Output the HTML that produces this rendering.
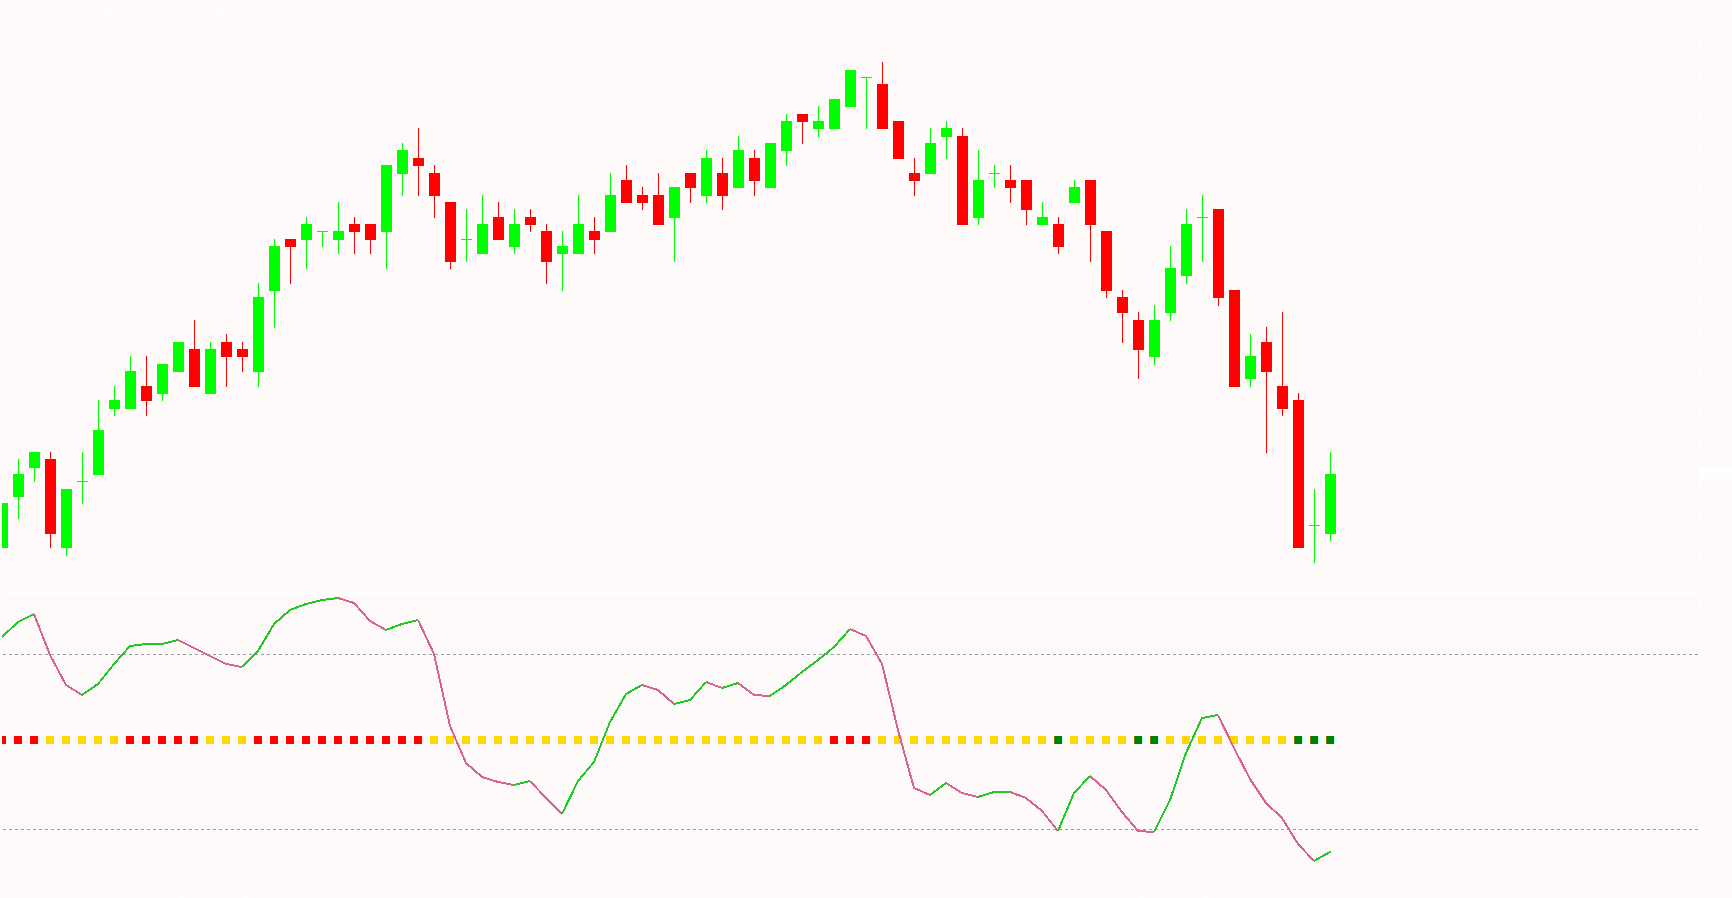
<!DOCTYPE html><html><head><meta charset="utf-8"><title>AUDCAD,M1</title>
<style>html,body{margin:0;padding:0;background:#fffafa;overflow:hidden}body{width:1732px;height:898px;position:relative;font-family:"Liberation Sans",sans-serif}svg{position:absolute;left:0;top:0;display:block}text{font-family:"Liberation Sans",sans-serif;fill:#ffffff}</style></head><body>
<svg width="1732" height="898" viewBox="0 0 1732 898">
<rect x="0" y="0" width="1732" height="898" fill="#fffafa"/>
<g shape-rendering="crispEdges" fill="none" stroke="#ffffff" stroke-width="1">
<rect x="1.5" y="2.5" width="1698" height="590"/>
<rect x="1.5" y="594.5" width="1698" height="293"/>
<line x1="1700" y1="40.5" x2="1702" y2="40.5"/>
<line x1="1700" y1="77.5" x2="1702" y2="77.5"/>
<line x1="1700" y1="114.5" x2="1702" y2="114.5"/>
<line x1="1700" y1="150.5" x2="1702" y2="150.5"/>
<line x1="1700" y1="187.5" x2="1702" y2="187.5"/>
<line x1="1700" y1="224.5" x2="1702" y2="224.5"/>
<line x1="1700" y1="261.5" x2="1702" y2="261.5"/>
<line x1="1700" y1="297.5" x2="1702" y2="297.5"/>
<line x1="1700" y1="334.5" x2="1702" y2="334.5"/>
<line x1="1700" y1="371.5" x2="1702" y2="371.5"/>
<line x1="1700" y1="408.5" x2="1702" y2="408.5"/>
<line x1="1700" y1="444.5" x2="1702" y2="444.5"/>
<line x1="1700" y1="481.5" x2="1702" y2="481.5"/>
<line x1="1700" y1="518.5" x2="1702" y2="518.5"/>
<line x1="1700" y1="555.5" x2="1702" y2="555.5"/>
<line x1="1700" y1="601.5" x2="1702" y2="601.5"/>
<line x1="1700" y1="654.5" x2="1702" y2="654.5"/>
<line x1="1700" y1="829.5" x2="1702" y2="829.5"/>
<line x1="1700" y1="881.5" x2="1702" y2="881.5"/>
<line x1="2.5" y1="887" x2="2.5" y2="891"/>
<line x1="66.5" y1="887" x2="66.5" y2="891"/>
<line x1="130.5" y1="887" x2="130.5" y2="891"/>
<line x1="194.5" y1="887" x2="194.5" y2="891"/>
<line x1="258.5" y1="887" x2="258.5" y2="891"/>
<line x1="322.5" y1="887" x2="322.5" y2="891"/>
<line x1="386.5" y1="887" x2="386.5" y2="891"/>
<line x1="450.5" y1="887" x2="450.5" y2="891"/>
<line x1="514.5" y1="887" x2="514.5" y2="891"/>
<line x1="578.5" y1="887" x2="578.5" y2="891"/>
<line x1="642.5" y1="887" x2="642.5" y2="891"/>
<line x1="706.5" y1="887" x2="706.5" y2="891"/>
<line x1="770.5" y1="887" x2="770.5" y2="891"/>
<line x1="834.5" y1="887" x2="834.5" y2="891"/>
<line x1="898.5" y1="887" x2="898.5" y2="891"/>
<line x1="962.5" y1="887" x2="962.5" y2="891"/>
<line x1="1026.5" y1="887" x2="1026.5" y2="891"/>
<line x1="1090.5" y1="887" x2="1090.5" y2="891"/>
<line x1="1154.5" y1="887" x2="1154.5" y2="891"/>
<line x1="1218.5" y1="887" x2="1218.5" y2="891"/>
<line x1="1282.5" y1="887" x2="1282.5" y2="891"/>
<line x1="1346.5" y1="887" x2="1346.5" y2="891"/>
<line x1="1410.5" y1="887" x2="1410.5" y2="891"/>
<line x1="1474.5" y1="887" x2="1474.5" y2="891"/>
<line x1="1538.5" y1="887" x2="1538.5" y2="891"/>
<line x1="1602.5" y1="887" x2="1602.5" y2="891"/>
<line x1="1666.5" y1="887" x2="1666.5" y2="891"/>
</g>
<defs><clipPath id="c1"><rect x="2" y="3" width="1697" height="589"/></clipPath><clipPath id="c2"><rect x="2" y="595" width="1697" height="292"/></clipPath></defs>
<g shape-rendering="crispEdges" clip-path="url(#c1)">
<rect x="2" y="503" width="1" height="45" fill="#00ff00"/>
<rect x="-3" y="503" width="11" height="45" fill="#00ff00"/>
<rect x="18" y="459" width="1" height="60" fill="#00ff00"/>
<rect x="13" y="474" width="11" height="23" fill="#00ff00"/>
<rect x="34" y="452" width="1" height="30" fill="#00ff00"/>
<rect x="29" y="452" width="11" height="16" fill="#00ff00"/>
<rect x="50" y="452" width="1" height="96" fill="#ff0000"/>
<rect x="45" y="459" width="11" height="75" fill="#ff0000"/>
<rect x="66" y="489" width="1" height="67" fill="#00ff00"/>
<rect x="61" y="489" width="11" height="59" fill="#00ff00"/>
<rect x="82" y="452" width="1" height="52" fill="#00ff00"/>
<rect x="77" y="481" width="11" height="1" fill="#00ff00"/>
<rect x="98" y="400" width="1" height="75" fill="#00ff00"/>
<rect x="93" y="430" width="11" height="45" fill="#00ff00"/>
<rect x="114" y="386" width="1" height="30" fill="#00ff00"/>
<rect x="109" y="400" width="11" height="9" fill="#00ff00"/>
<rect x="130" y="356" width="1" height="53" fill="#00ff00"/>
<rect x="125" y="371" width="11" height="38" fill="#00ff00"/>
<rect x="146" y="356" width="1" height="60" fill="#ff0000"/>
<rect x="141" y="386" width="11" height="15" fill="#ff0000"/>
<rect x="162" y="364" width="1" height="37" fill="#00ff00"/>
<rect x="157" y="364" width="11" height="30" fill="#00ff00"/>
<rect x="178" y="342" width="1" height="30" fill="#00ff00"/>
<rect x="173" y="342" width="11" height="30" fill="#00ff00"/>
<rect x="194" y="320" width="1" height="67" fill="#ff0000"/>
<rect x="189" y="349" width="11" height="38" fill="#ff0000"/>
<rect x="210" y="342" width="1" height="52" fill="#00ff00"/>
<rect x="205" y="349" width="11" height="45" fill="#00ff00"/>
<rect x="226" y="334" width="1" height="53" fill="#ff0000"/>
<rect x="221" y="342" width="11" height="15" fill="#ff0000"/>
<rect x="242" y="342" width="1" height="30" fill="#ff0000"/>
<rect x="237" y="349" width="11" height="8" fill="#ff0000"/>
<rect x="258" y="283" width="1" height="104" fill="#00ff00"/>
<rect x="253" y="297" width="11" height="75" fill="#00ff00"/>
<rect x="274" y="239" width="1" height="89" fill="#00ff00"/>
<rect x="269" y="246" width="11" height="45" fill="#00ff00"/>
<rect x="290" y="239" width="1" height="45" fill="#ff0000"/>
<rect x="285" y="239" width="11" height="8" fill="#ff0000"/>
<rect x="306" y="217" width="1" height="52" fill="#00ff00"/>
<rect x="301" y="224" width="11" height="16" fill="#00ff00"/>
<rect x="322" y="231" width="1" height="16" fill="#00ff00"/>
<rect x="317" y="231" width="11" height="1" fill="#00ff00"/>
<rect x="338" y="202" width="1" height="52" fill="#00ff00"/>
<rect x="333" y="231" width="11" height="9" fill="#00ff00"/>
<rect x="354" y="217" width="1" height="37" fill="#ff0000"/>
<rect x="349" y="224" width="11" height="8" fill="#ff0000"/>
<rect x="370" y="224" width="1" height="30" fill="#ff0000"/>
<rect x="365" y="224" width="11" height="16" fill="#ff0000"/>
<rect x="386" y="165" width="1" height="104" fill="#00ff00"/>
<rect x="381" y="165" width="11" height="67" fill="#00ff00"/>
<rect x="402" y="143" width="1" height="53" fill="#00ff00"/>
<rect x="397" y="150" width="11" height="24" fill="#00ff00"/>
<rect x="418" y="128" width="1" height="68" fill="#ff0000"/>
<rect x="413" y="158" width="11" height="8" fill="#ff0000"/>
<rect x="434" y="165" width="1" height="53" fill="#ff0000"/>
<rect x="429" y="173" width="11" height="23" fill="#ff0000"/>
<rect x="450" y="202" width="1" height="67" fill="#ff0000"/>
<rect x="445" y="202" width="11" height="60" fill="#ff0000"/>
<rect x="466" y="209" width="1" height="53" fill="#00ff00"/>
<rect x="461" y="239" width="11" height="1" fill="#00ff00"/>
<rect x="482" y="195" width="1" height="59" fill="#00ff00"/>
<rect x="477" y="224" width="11" height="30" fill="#00ff00"/>
<rect x="498" y="202" width="1" height="38" fill="#ff0000"/>
<rect x="493" y="217" width="11" height="23" fill="#ff0000"/>
<rect x="514" y="209" width="1" height="45" fill="#00ff00"/>
<rect x="509" y="224" width="11" height="23" fill="#00ff00"/>
<rect x="530" y="209" width="1" height="23" fill="#ff0000"/>
<rect x="525" y="217" width="11" height="8" fill="#ff0000"/>
<rect x="546" y="224" width="1" height="60" fill="#ff0000"/>
<rect x="541" y="231" width="11" height="31" fill="#ff0000"/>
<rect x="562" y="231" width="1" height="60" fill="#00ff00"/>
<rect x="557" y="246" width="11" height="8" fill="#00ff00"/>
<rect x="578" y="195" width="1" height="59" fill="#00ff00"/>
<rect x="573" y="224" width="11" height="30" fill="#00ff00"/>
<rect x="594" y="217" width="1" height="37" fill="#ff0000"/>
<rect x="589" y="231" width="11" height="9" fill="#ff0000"/>
<rect x="610" y="173" width="1" height="59" fill="#00ff00"/>
<rect x="605" y="195" width="11" height="37" fill="#00ff00"/>
<rect x="626" y="165" width="1" height="38" fill="#ff0000"/>
<rect x="621" y="180" width="11" height="23" fill="#ff0000"/>
<rect x="642" y="187" width="1" height="23" fill="#ff0000"/>
<rect x="637" y="195" width="11" height="8" fill="#ff0000"/>
<rect x="658" y="173" width="1" height="52" fill="#ff0000"/>
<rect x="653" y="195" width="11" height="30" fill="#ff0000"/>
<rect x="674" y="187" width="1" height="75" fill="#00ff00"/>
<rect x="669" y="187" width="11" height="31" fill="#00ff00"/>
<rect x="690" y="173" width="1" height="30" fill="#ff0000"/>
<rect x="685" y="173" width="11" height="15" fill="#ff0000"/>
<rect x="706" y="150" width="1" height="53" fill="#00ff00"/>
<rect x="701" y="158" width="11" height="38" fill="#00ff00"/>
<rect x="722" y="158" width="1" height="52" fill="#ff0000"/>
<rect x="717" y="173" width="11" height="23" fill="#ff0000"/>
<rect x="738" y="136" width="1" height="52" fill="#00ff00"/>
<rect x="733" y="150" width="11" height="38" fill="#00ff00"/>
<rect x="754" y="150" width="1" height="46" fill="#ff0000"/>
<rect x="749" y="158" width="11" height="23" fill="#ff0000"/>
<rect x="770" y="143" width="1" height="45" fill="#00ff00"/>
<rect x="765" y="143" width="11" height="45" fill="#00ff00"/>
<rect x="786" y="114" width="1" height="52" fill="#00ff00"/>
<rect x="781" y="121" width="11" height="30" fill="#00ff00"/>
<rect x="802" y="114" width="1" height="30" fill="#ff0000"/>
<rect x="797" y="114" width="11" height="8" fill="#ff0000"/>
<rect x="818" y="106" width="1" height="31" fill="#00ff00"/>
<rect x="813" y="121" width="11" height="8" fill="#00ff00"/>
<rect x="834" y="99" width="1" height="30" fill="#00ff00"/>
<rect x="829" y="99" width="11" height="30" fill="#00ff00"/>
<rect x="850" y="70" width="1" height="37" fill="#00ff00"/>
<rect x="845" y="70" width="11" height="37" fill="#00ff00"/>
<rect x="866" y="77" width="1" height="52" fill="#00ff00"/>
<rect x="861" y="77" width="11" height="1" fill="#00ff00"/>
<rect x="882" y="62" width="1" height="67" fill="#ff0000"/>
<rect x="877" y="84" width="11" height="45" fill="#ff0000"/>
<rect x="898" y="121" width="1" height="38" fill="#ff0000"/>
<rect x="893" y="121" width="11" height="38" fill="#ff0000"/>
<rect x="914" y="158" width="1" height="38" fill="#ff0000"/>
<rect x="909" y="173" width="11" height="8" fill="#ff0000"/>
<rect x="930" y="128" width="1" height="46" fill="#00ff00"/>
<rect x="925" y="143" width="11" height="31" fill="#00ff00"/>
<rect x="946" y="121" width="1" height="38" fill="#00ff00"/>
<rect x="941" y="128" width="11" height="9" fill="#00ff00"/>
<rect x="962" y="128" width="1" height="97" fill="#ff0000"/>
<rect x="957" y="136" width="11" height="89" fill="#ff0000"/>
<rect x="978" y="150" width="1" height="75" fill="#00ff00"/>
<rect x="973" y="180" width="11" height="38" fill="#00ff00"/>
<rect x="994" y="165" width="1" height="23" fill="#00ff00"/>
<rect x="989" y="173" width="11" height="1" fill="#00ff00"/>
<rect x="1010" y="165" width="1" height="38" fill="#ff0000"/>
<rect x="1005" y="180" width="11" height="8" fill="#ff0000"/>
<rect x="1026" y="180" width="1" height="45" fill="#ff0000"/>
<rect x="1021" y="180" width="11" height="30" fill="#ff0000"/>
<rect x="1042" y="202" width="1" height="23" fill="#00ff00"/>
<rect x="1037" y="217" width="11" height="8" fill="#00ff00"/>
<rect x="1058" y="217" width="1" height="37" fill="#ff0000"/>
<rect x="1053" y="224" width="11" height="23" fill="#ff0000"/>
<rect x="1074" y="180" width="1" height="23" fill="#00ff00"/>
<rect x="1069" y="187" width="11" height="16" fill="#00ff00"/>
<rect x="1090" y="180" width="1" height="82" fill="#ff0000"/>
<rect x="1085" y="180" width="11" height="45" fill="#ff0000"/>
<rect x="1106" y="231" width="1" height="67" fill="#ff0000"/>
<rect x="1101" y="231" width="11" height="60" fill="#ff0000"/>
<rect x="1122" y="290" width="1" height="53" fill="#ff0000"/>
<rect x="1117" y="297" width="11" height="16" fill="#ff0000"/>
<rect x="1138" y="312" width="1" height="67" fill="#ff0000"/>
<rect x="1133" y="320" width="11" height="30" fill="#ff0000"/>
<rect x="1154" y="305" width="1" height="60" fill="#00ff00"/>
<rect x="1149" y="320" width="11" height="37" fill="#00ff00"/>
<rect x="1170" y="246" width="1" height="75" fill="#00ff00"/>
<rect x="1165" y="268" width="11" height="45" fill="#00ff00"/>
<rect x="1186" y="209" width="1" height="75" fill="#00ff00"/>
<rect x="1181" y="224" width="11" height="52" fill="#00ff00"/>
<rect x="1202" y="195" width="1" height="67" fill="#00ff00"/>
<rect x="1197" y="217" width="11" height="1" fill="#00ff00"/>
<rect x="1218" y="209" width="1" height="97" fill="#ff0000"/>
<rect x="1213" y="209" width="11" height="89" fill="#ff0000"/>
<rect x="1234" y="290" width="1" height="97" fill="#ff0000"/>
<rect x="1229" y="290" width="11" height="97" fill="#ff0000"/>
<rect x="1250" y="334" width="1" height="53" fill="#00ff00"/>
<rect x="1245" y="356" width="11" height="23" fill="#00ff00"/>
<rect x="1266" y="327" width="1" height="126" fill="#ff0000"/>
<rect x="1261" y="342" width="11" height="30" fill="#ff0000"/>
<rect x="1282" y="312" width="1" height="104" fill="#ff0000"/>
<rect x="1277" y="386" width="11" height="23" fill="#ff0000"/>
<rect x="1298" y="393" width="1" height="155" fill="#ff0000"/>
<rect x="1293" y="400" width="11" height="148" fill="#ff0000"/>
<rect x="1314" y="489" width="1" height="74" fill="#00ff00"/>
<rect x="1309" y="525" width="11" height="1" fill="#00ff00"/>
<rect x="1330" y="452" width="1" height="89" fill="#00ff00"/>
<rect x="1325" y="474" width="11" height="60" fill="#00ff00"/>
</g>
<g clip-path="url(#c2)">
<g shape-rendering="crispEdges" stroke="#9a9a9a" stroke-width="1" stroke-dasharray="3 3">
<line x1="3" y1="654.5" x2="1699" y2="654.5"/>
<line x1="3" y1="829.5" x2="1699" y2="829.5"/>
</g>
<g shape-rendering="crispEdges">
<rect x="-2" y="736" width="8" height="8" fill="#ff0000"/>
<rect x="14" y="736" width="8" height="8" fill="#ff0000"/>
<rect x="30" y="736" width="8" height="8" fill="#ff0000"/>
<rect x="46" y="736" width="8" height="8" fill="#ffd700"/>
<rect x="62" y="736" width="8" height="8" fill="#ffd700"/>
<rect x="78" y="736" width="8" height="8" fill="#ffd700"/>
<rect x="94" y="736" width="8" height="8" fill="#ffd700"/>
<rect x="110" y="736" width="8" height="8" fill="#ffd700"/>
<rect x="126" y="736" width="8" height="8" fill="#ff0000"/>
<rect x="142" y="736" width="8" height="8" fill="#ff0000"/>
<rect x="158" y="736" width="8" height="8" fill="#ff0000"/>
<rect x="174" y="736" width="8" height="8" fill="#ff0000"/>
<rect x="190" y="736" width="8" height="8" fill="#ff0000"/>
<rect x="206" y="736" width="8" height="8" fill="#ffd700"/>
<rect x="222" y="736" width="8" height="8" fill="#ffd700"/>
<rect x="238" y="736" width="8" height="8" fill="#ffd700"/>
<rect x="254" y="736" width="8" height="8" fill="#ff0000"/>
<rect x="270" y="736" width="8" height="8" fill="#ff0000"/>
<rect x="286" y="736" width="8" height="8" fill="#ff0000"/>
<rect x="302" y="736" width="8" height="8" fill="#ff0000"/>
<rect x="318" y="736" width="8" height="8" fill="#ff0000"/>
<rect x="334" y="736" width="8" height="8" fill="#ff0000"/>
<rect x="350" y="736" width="8" height="8" fill="#ff0000"/>
<rect x="366" y="736" width="8" height="8" fill="#ff0000"/>
<rect x="382" y="736" width="8" height="8" fill="#ff0000"/>
<rect x="398" y="736" width="8" height="8" fill="#ff0000"/>
<rect x="414" y="736" width="8" height="8" fill="#ff0000"/>
<rect x="430" y="736" width="8" height="8" fill="#ffd700"/>
<rect x="446" y="736" width="8" height="8" fill="#ffd700"/>
<rect x="462" y="736" width="8" height="8" fill="#ffd700"/>
<rect x="478" y="736" width="8" height="8" fill="#ffd700"/>
<rect x="494" y="736" width="8" height="8" fill="#ffd700"/>
<rect x="510" y="736" width="8" height="8" fill="#ffd700"/>
<rect x="526" y="736" width="8" height="8" fill="#ffd700"/>
<rect x="542" y="736" width="8" height="8" fill="#ffd700"/>
<rect x="558" y="736" width="8" height="8" fill="#ffd700"/>
<rect x="574" y="736" width="8" height="8" fill="#ffd700"/>
<rect x="590" y="736" width="8" height="8" fill="#ffd700"/>
<rect x="606" y="736" width="8" height="8" fill="#ffd700"/>
<rect x="622" y="736" width="8" height="8" fill="#ffd700"/>
<rect x="638" y="736" width="8" height="8" fill="#ffd700"/>
<rect x="654" y="736" width="8" height="8" fill="#ffd700"/>
<rect x="670" y="736" width="8" height="8" fill="#ffd700"/>
<rect x="686" y="736" width="8" height="8" fill="#ffd700"/>
<rect x="702" y="736" width="8" height="8" fill="#ffd700"/>
<rect x="718" y="736" width="8" height="8" fill="#ffd700"/>
<rect x="734" y="736" width="8" height="8" fill="#ffd700"/>
<rect x="750" y="736" width="8" height="8" fill="#ffd700"/>
<rect x="766" y="736" width="8" height="8" fill="#ffd700"/>
<rect x="782" y="736" width="8" height="8" fill="#ffd700"/>
<rect x="798" y="736" width="8" height="8" fill="#ffd700"/>
<rect x="814" y="736" width="8" height="8" fill="#ffd700"/>
<rect x="830" y="736" width="8" height="8" fill="#ff0000"/>
<rect x="846" y="736" width="8" height="8" fill="#ff0000"/>
<rect x="862" y="736" width="8" height="8" fill="#ff0000"/>
<rect x="878" y="736" width="8" height="8" fill="#ffd700"/>
<rect x="894" y="736" width="8" height="8" fill="#ffd700"/>
<rect x="910" y="736" width="8" height="8" fill="#ffd700"/>
<rect x="926" y="736" width="8" height="8" fill="#ffd700"/>
<rect x="942" y="736" width="8" height="8" fill="#ffd700"/>
<rect x="958" y="736" width="8" height="8" fill="#ffd700"/>
<rect x="974" y="736" width="8" height="8" fill="#ffd700"/>
<rect x="990" y="736" width="8" height="8" fill="#ffd700"/>
<rect x="1006" y="736" width="8" height="8" fill="#ffd700"/>
<rect x="1022" y="736" width="8" height="8" fill="#ffd700"/>
<rect x="1038" y="736" width="8" height="8" fill="#ffd700"/>
<rect x="1054" y="736" width="8" height="8" fill="#008000"/>
<rect x="1054" y="736" width="1" height="8" fill="#7f8000"/>
<rect x="1061" y="736" width="1" height="8" fill="#006a60"/>
<rect x="1062" y="736" width="1" height="8" fill="#b4fffa"/>
<rect x="1070" y="736" width="8" height="8" fill="#ffd700"/>
<rect x="1086" y="736" width="8" height="8" fill="#ffd700"/>
<rect x="1102" y="736" width="8" height="8" fill="#ffd700"/>
<rect x="1118" y="736" width="8" height="8" fill="#ffd700"/>
<rect x="1134" y="736" width="8" height="8" fill="#008000"/>
<rect x="1134" y="736" width="1" height="8" fill="#7f8000"/>
<rect x="1141" y="736" width="1" height="8" fill="#006a60"/>
<rect x="1142" y="736" width="1" height="8" fill="#b4fffa"/>
<rect x="1150" y="736" width="8" height="8" fill="#008000"/>
<rect x="1150" y="736" width="1" height="8" fill="#7f8000"/>
<rect x="1157" y="736" width="1" height="8" fill="#006a60"/>
<rect x="1158" y="736" width="1" height="8" fill="#b4fffa"/>
<rect x="1166" y="736" width="8" height="8" fill="#ffd700"/>
<rect x="1182" y="736" width="8" height="8" fill="#ffd700"/>
<rect x="1198" y="736" width="8" height="8" fill="#ffd700"/>
<rect x="1214" y="736" width="8" height="8" fill="#ffd700"/>
<rect x="1230" y="736" width="8" height="8" fill="#ffd700"/>
<rect x="1246" y="736" width="8" height="8" fill="#ffd700"/>
<rect x="1262" y="736" width="8" height="8" fill="#ffd700"/>
<rect x="1278" y="736" width="8" height="8" fill="#ffd700"/>
<rect x="1294" y="736" width="8" height="8" fill="#008000"/>
<rect x="1294" y="736" width="1" height="8" fill="#7f8000"/>
<rect x="1301" y="736" width="1" height="8" fill="#006a60"/>
<rect x="1302" y="736" width="1" height="8" fill="#b4fffa"/>
<rect x="1310" y="736" width="8" height="8" fill="#008000"/>
<rect x="1310" y="736" width="1" height="8" fill="#7f8000"/>
<rect x="1317" y="736" width="1" height="8" fill="#006a60"/>
<rect x="1318" y="736" width="1" height="8" fill="#b4fffa"/>
<rect x="1326" y="736" width="8" height="8" fill="#008000"/>
<rect x="1326" y="736" width="1" height="8" fill="#7f8000"/>
<rect x="1333" y="736" width="1" height="8" fill="#006a60"/>
<rect x="1334" y="736" width="1" height="8" fill="#b4fffa"/>
</g>
<g fill="none" stroke-width="2" stroke-linejoin="round" stroke-linecap="butt" shape-rendering="crispEdges">
<polyline stroke="#22c822" points="2,637 18,622 34,614"/>
<polyline stroke="#d7648d" points="34,614 50,655 66,685 82,695"/>
<polyline stroke="#22c822" points="82,695 98,684 114,664 130,646 146,644 162,644 178,640"/>
<polyline stroke="#d7648d" points="178,640 194,648 210,656 226,664 242,667"/>
<polyline stroke="#22c822" points="242,667 258,651 274,624 290,610 306,604 322,600 338,598"/>
<polyline stroke="#d7648d" points="338,598 354,603 370,621 386,630"/>
<polyline stroke="#22c822" points="386,630 402,624 418,620"/>
<polyline stroke="#d7648d" points="418,620 434,654 450,726 466,763 482,777 498,782 514,785"/>
<polyline stroke="#22c822" points="514,785 530,781"/>
<polyline stroke="#d7648d" points="530,781 546,798 562,814"/>
<polyline stroke="#22c822" points="562,814 578,781 594,762 610,722 626,694 642,685"/>
<polyline stroke="#d7648d" points="642,685 658,690 674,704"/>
<polyline stroke="#22c822" points="674,704 690,700 706,682"/>
<polyline stroke="#d7648d" points="706,682 722,688"/>
<polyline stroke="#22c822" points="722,688 738,683"/>
<polyline stroke="#d7648d" points="738,683 754,695 770,696"/>
<polyline stroke="#22c822" points="770,696 786,685 802,672 818,660 834,647 850,629"/>
<polyline stroke="#d7648d" points="850,629 866,636 882,664 898,730 914,788 930,795"/>
<polyline stroke="#22c822" points="930,795 946,783"/>
<polyline stroke="#d7648d" points="946,783 962,793 978,797"/>
<polyline stroke="#22c822" points="978,797 994,792 1010,792"/>
<polyline stroke="#d7648d" points="1010,792 1026,798 1042,811 1058,831"/>
<polyline stroke="#22c822" points="1058,831 1074,793 1090,776"/>
<polyline stroke="#d7648d" points="1090,776 1106,790 1122,812 1138,831 1154,832"/>
<polyline stroke="#22c822" points="1154,832 1170,800 1186,753 1202,718 1218,715"/>
<polyline stroke="#d7648d" points="1218,715 1234,748 1250,779 1266,803 1282,818 1298,844 1314,861"/>
<polyline stroke="#22c822" points="1314,861 1330,852 1330.87,851.51"/>
</g>
</g>
<path d="M5 9 L12 9 L8.5 13 Z" fill="#ffffff"/>
<text x="17.5" y="14" font-size="9.7">AUDCAD,M1&#160;&#160;0.91188 0.91199 0.91187 0.91196</text>
<text x="6" y="607" font-size="9.2">Rsx (7) 50.0000 12.6339</text>
<text x="1705" y="44" font-size="9.7">0.91255</text>
<text x="1705" y="81" font-size="9.7">0.91250</text>
<text x="1705" y="118" font-size="9.7">0.91245</text>
<text x="1705" y="154" font-size="9.7">0.91240</text>
<text x="1705" y="191" font-size="9.7">0.91235</text>
<text x="1705" y="228" font-size="9.7">0.91230</text>
<text x="1705" y="265" font-size="9.7">0.91225</text>
<text x="1705" y="301" font-size="9.7">0.91220</text>
<text x="1705" y="338" font-size="9.7">0.91215</text>
<text x="1705" y="375" font-size="9.7">0.91210</text>
<text x="1705" y="412" font-size="9.7">0.91205</text>
<text x="1705" y="448" font-size="9.7">0.91200</text>
<text x="1705" y="485" font-size="9.7">0.91195</text>
<text x="1705" y="522" font-size="9.7">0.91190</text>
<text x="1705" y="559" font-size="9.7">0.91185</text>
<rect x="1700" y="468" width="32" height="12" fill="#ffffff"/>
<text x="1705" y="478" font-size="9.7" style="fill:#fffafa">0.91196</text>
<text x="1703" y="605" font-size="9.7">100</text>
<text x="1703" y="658" font-size="9.7">80</text>
<text x="1703" y="833" font-size="9.7">20</text>
<text x="1703" y="885" font-size="9.7">0</text>
<text x="4" y="898.5" font-size="9.7">18 Dec 2025</text>
<text x="68" y="898.5" font-size="9.7">18 Dec 20:39</text>
<text x="132" y="898.5" font-size="9.7">18 Dec 20:43</text>
<text x="196" y="898.5" font-size="9.7">18 Dec 20:47</text>
<text x="260" y="898.5" font-size="9.7">18 Dec 20:51</text>
<text x="324" y="898.5" font-size="9.7">18 Dec 20:55</text>
<text x="388" y="898.5" font-size="9.7">18 Dec 20:59</text>
<text x="452" y="898.5" font-size="9.7">18 Dec 21:03</text>
<text x="516" y="898.5" font-size="9.7">18 Dec 21:07</text>
<text x="580" y="898.5" font-size="9.7">18 Dec 21:11</text>
<text x="644" y="898.5" font-size="9.7">18 Dec 21:15</text>
<text x="708" y="898.5" font-size="9.7">18 Dec 21:19</text>
<text x="772" y="898.5" font-size="9.7">18 Dec 21:23</text>
<text x="836" y="898.5" font-size="9.7">18 Dec 21:27</text>
<text x="900" y="898.5" font-size="9.7">18 Dec 21:31</text>
<text x="964" y="898.5" font-size="9.7">18 Dec 21:35</text>
<text x="1028" y="898.5" font-size="9.7">18 Dec 21:39</text>
<text x="1092" y="898.5" font-size="9.7">18 Dec 21:43</text>
<text x="1156" y="898.5" font-size="9.7">18 Dec 21:47</text>
<text x="1220" y="898.5" font-size="9.7">18 Dec 21:51</text>
<text x="1284" y="898.5" font-size="9.7">18 Dec 21:55</text>
<text x="1348" y="898.5" font-size="9.7">18 Dec 21:59</text>
</svg></body></html>
